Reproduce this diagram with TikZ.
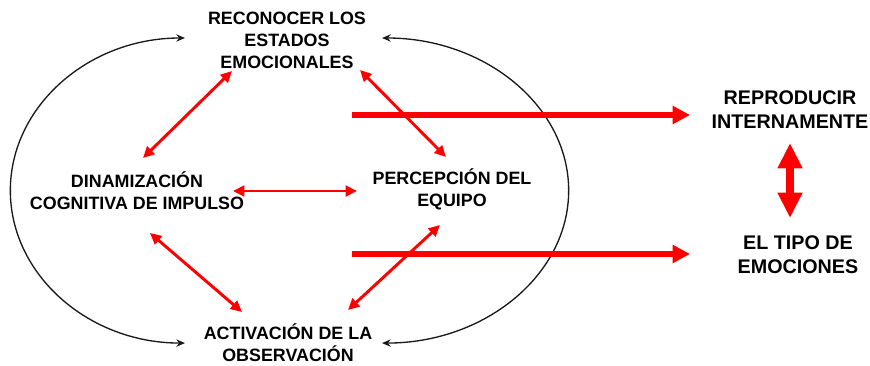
\documentclass[tikz,border=0pt]{standalone}
\usepackage{fontspec}
\setmainfont{Liberation Sans}
\usepackage{xcolor}
\definecolor{cRed}{HTML}{FF0000}
\definecolor{cInk}{HTML}{1A1A1A}
\usetikzlibrary{arrows.meta,calc}
\tikzset{
  node-label/.style={align=center,inner sep=1pt,text=black,
    font=\bfseries\fontsize{13.4}{16.5}\selectfont},
  node-label-big/.style={node-label,font=\bfseries\fontsize{14.8}{18}\selectfont},
  arrow-loop/.style={{Stealth[length=6.5pt,width=5.5pt]}-{Stealth[length=6.5pt,width=5.5pt]},
    line width=1pt,draw=cInk},
  arrow-red/.style={{Triangle[length=8.5pt,width=8pt]}-{Triangle[length=8.5pt,width=8pt]},
    line width=2.2pt,draw=cRed},
  arrow-big/.style={-{Triangle[length=13pt,width=13pt]},line width=3.8pt,draw=cRed},
  arrow-both/.style={{Triangle[length=19pt,width=17.5pt]}-{Triangle[length=19pt,width=17.5pt]},
    line width=5.5pt,draw=cRed},
}

\begin{document}
\begin{tikzpicture}[x=0.75pt,y=-0.75pt]
  \useasboundingbox (0,0) rectangle (870,366);
  \node[node-label] (reco) at (287,40) {RECONOCER LOS\\ESTADOS\\EMOCIONALES};
  \node[node-label] (dina) at (137,191) {DINAMIZACIÓN\\COGNITIVA DE IMPULSO};
  \node[node-label] (perc) at (452,189) {PERCEPCIÓN DEL\\EQUIPO};
  \node[node-label] (acti) at (288,343) {ACTIVACIÓN DE LA\\OBSERVACIÓN};
  \node[node-label-big] (repro) at (790,110) {REPRODUCIR\\INTERNAMENTE};
  \node[node-label-big] (tipo) at (798,255) {EL TIPO DE\\EMOCIONES};

  % ciclo exterior
  \draw[arrow-loop] ([shift={(-102,-2)}]reco.center)
    arc[start angle=90,end angle=270,x radius=131pt,y radius=114.4pt];
  \draw[arrow-loop] ([shift={(95,-2)}]reco.center)
    arc[start angle=90,end angle=-90,x radius=140pt,y radius=114.4pt];

  % relaciones internas
  \draw[arrow-red] ([shift={(-55,31)}]reco.center) -- ([shift={(6,-33)}]dina.center);
  \draw[arrow-red] ([shift={(73,30)}]reco.center) -- ([shift={(-6,-32)}]perc.center);
  \draw[arrow-red] ([shift={(96,0)}]dina.center) -- ([shift={(-95,2)}]perc.center);
  \draw[arrow-red] ([shift={(13,42)}]dina.center) -- ([shift={(-46,-31)}]acti.center);
  \draw[arrow-red] ([shift={(60,-33)}]acti.center) -- ([shift={(-12,36)}]perc.center);

  % salidas
  \coordinate (out-a) at (352,115);
  \coordinate (out-b) at (352,254);
  \draw[arrow-big] (out-a) -- ($(out-a -| repro.center)+(-100,0)$);
  \draw[arrow-big] (out-b) -- ($(out-b -| tipo.center)+(-108,0)$);
  \draw[arrow-both] ([shift={(0,33)}]repro.center) -- ([shift={(-8,-37)}]tipo.center);
\end{tikzpicture}
\end{document}
